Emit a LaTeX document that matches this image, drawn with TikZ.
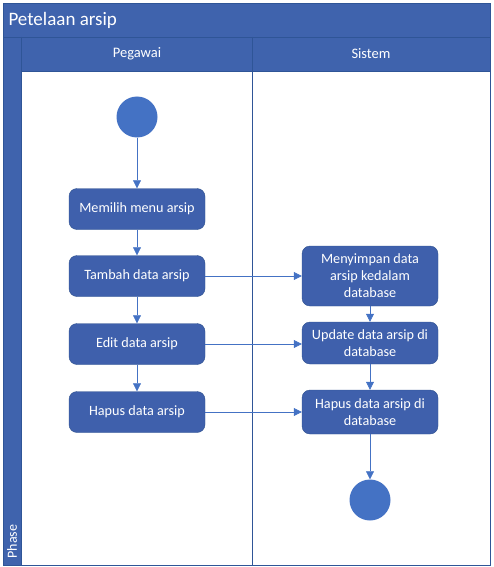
\documentclass[tikz,border=0pt]{standalone}
\usepackage{fontspec}
\setmainfont{Carlito}
\usetikzlibrary{arrows.meta}

\definecolor{bandfill}{HTML}{3F63AD}
\definecolor{bandline}{HTML}{2F5597}
\definecolor{nodefill}{HTML}{3F60AC}
\definecolor{nodeline}{HTML}{2F528F}
\definecolor{flowblue}{HTML}{4472C4}

\begin{document}
\begin{tikzpicture}[x=1pt,y=-1pt,
  act/.style={draw=nodeline, fill=nodefill, rounded corners=8pt, minimum width=136pt,
    minimum height=41pt, align=center, text=white,
    font=\fontsize{14.2}{17}\selectfont},
  dot/.style={circle, fill=flowblue, minimum size=41pt, inner sep=0pt},
  flow/.style={draw=flowblue, semithick, -{Triangle[width=8pt,length=8pt]}}]
\useasboundingbox (0,0) rectangle (493,567);

% pool, lanes
\fill[bandfill] (3,3) rectangle (490,71);
\fill[bandfill] (3,71) rectangle (21,565);
\draw[bandline] (3,3) rectangle (490,565);
\draw[bandline] (3,37) -- (490,37);
\draw[bandline] (21,37) -- (21,565);
\draw[bandline] (21,71) -- (490,71);
\draw[bandline] (252,37) -- (252,565);

\node[anchor=west, text=white, font=\fontsize{19}{22}\selectfont] (pool) at (5,20) {Petelaan arsip};
\node[text=white, font=\fontsize{14.5}{17}\selectfont] (pegawai) at (137,54) {Pegawai};
\node[text=white, font=\fontsize{14.5}{17}\selectfont] (sistem) at (371,54) {Sistem};
\node[rotate=90, anchor=west, text=white, font=\fontsize{14}{16}\selectfont] (phase) at (12,562) {Phase};

% Pegawai
\node[dot] (start) at (137,117) {};
\node[act] (menu) at (137,209) {Memilih menu arsip};
\node[act] (tambah) at (137,276) {Tambah data arsip};
\node[act] (edit) at (137,344) {Edit data arsip};
\node[act] (hapus) at (137,412) {Hapus data arsip};

% Sistem
\node[act, minimum height=60pt] (simpan) at (370,276) {Menyimpan data\\arsip kedalam\\database};
\node[act, minimum height=42pt] (update) at (370,343) {Update data arsip di\\database};
\node[act, minimum height=44pt] (hapusdb) at (370,412) {Hapus data arsip di\\database};
\node[dot] (end) at (370,500) {};

\path[flow] (start) -- (menu);
\path[flow] (menu) -- (tambah);
\path[flow] (tambah) -- (edit);
\path[flow] (edit) -- (hapus);
\path[flow] (tambah) -- (simpan);
\path[flow] (edit.east) -- (update.west |- edit.east);
\path[flow] (hapus.east) -- (hapusdb.west |- hapus.east);
\path[flow] (simpan) -- (update);
\path[flow] (update) -- (hapusdb);
\path[flow] (hapusdb) -- (end);
\end{tikzpicture}
\end{document}
